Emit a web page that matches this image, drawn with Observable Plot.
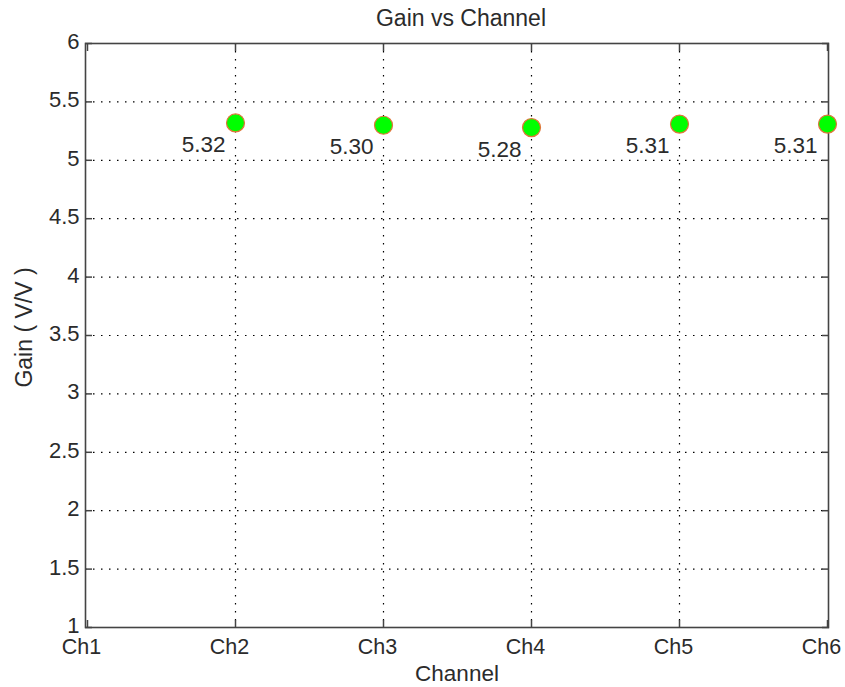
<!DOCTYPE html>
<html>
<head>
<meta charset="utf-8">
<script src="https://cdn.jsdelivr.net/npm/d3@7"></script>
<script src="https://cdn.jsdelivr.net/npm/@observablehq/plot@0.6"></script>
<style>
  html, body { margin: 0; padding: 0; background: #fff; }
  #chart svg { display: block; }
</style>
</head>
<body>
<div id="chart"></div>
<script>
const channels = ["Ch1", "Ch2", "Ch3", "Ch4", "Ch5", "Ch6"];
const pointChannels = ["Ch2", "Ch3", "Ch4", "Ch5", "Ch6"];
const gains = [5.32, 5.30, 5.28, 5.31, 5.31];
const yTicks = [1, 1.5, 2, 2.5, 3, 3.5, 4, 4.5, 5, 5.5, 6];
const gridYTicks = [1.5, 2, 2.5, 3, 3.5, 4, 4.5, 5, 5.5];
const gridXTicks = ["Ch2", "Ch3", "Ch4", "Ch5"];
const titleText = "Gain vs Channel";
const xLabel = "Channel";
const yLabel = "Gain ( V/V )";

const data = pointChannels.map((c, i) => ({channel: c, gain: gains[i]}));

const font = "'Liberation Sans', Arial, sans-serif";
const textColor = "#2b2b2b";
const axisColor = "#444";

const chart = Plot.plot({
  width: 845,
  height: 687,
  marginLeft: 85,
  marginRight: 17,
  marginTop: 43,
  marginBottom: 60,
  style: {fontFamily: font, background: "#fff", color: textColor},
  x: {type: "point", domain: channels, padding: 0},
  y: {type: "linear", domain: [1, 6]},
  marks: [
    Plot.gridY(gridYTicks, {stroke: "#000", strokeOpacity: 1, strokeWidth: 1.2, strokeDasharray: "1.5,6.5"}),
    Plot.gridX(gridXTicks, {stroke: "#000", strokeOpacity: 1, strokeWidth: 1.2, strokeDasharray: "1.5,6.5"}),
    Plot.axisY(yTicks, {anchor: "left", tickSize: 0, tickPadding: 6, fontSize: 22, fill: textColor, label: null, tickFormat: d => String(d), dy: -1.5}),
    Plot.axisY(yTicks, {anchor: "left", tickSize: -7, text: null, stroke: axisColor, strokeWidth: 1.5, label: null}),
    Plot.axisY(yTicks, {anchor: "right", tickSize: -7, text: null, stroke: axisColor, strokeWidth: 1.5, label: null}),
    Plot.axisX(channels, {anchor: "bottom", tickSize: 0, tickPadding: 11, fontSize: 21.5, fill: textColor, dx: -6, label: null}),
    Plot.axisX(channels, {anchor: "bottom", tickSize: -7, text: null, stroke: axisColor, strokeWidth: 1.5, label: null}),
    Plot.axisX(channels, {anchor: "top", tickSize: -7, text: null, stroke: axisColor, strokeWidth: 1.5, label: null}),
    Plot.frame({stroke: axisColor, strokeWidth: 1.6}),
    Plot.dot(data, {x: "channel", y: "gain", r: 9, fill: "#00ff00", stroke: "#e0753a", strokeWidth: 1.2}),
    Plot.text(data, {x: "channel", y: "gain", text: d => d3.format(".2f")(d.gain), textAnchor: "end", lineAnchor: "middle", dx: -10, dy: 22, fontSize: 22.5, fill: textColor}),
    Plot.text([titleText], {frameAnchor: "top", textAnchor: "middle", lineAnchor: "middle", dy: -24.5, dx: 4, fontSize: 23, fill: textColor}),
    Plot.text([xLabel], {frameAnchor: "bottom", textAnchor: "middle", lineAnchor: "middle", dy: 46.5, fontSize: 22.5, fill: textColor}),
    Plot.text([yLabel], {frameAnchor: "left", textAnchor: "middle", lineAnchor: "middle", rotate: -90, dx: -61, dy: -8, fontSize: 23, fill: textColor})
  ]
});
document.getElementById("chart").appendChild(chart);
</script>
</body>
</html>
